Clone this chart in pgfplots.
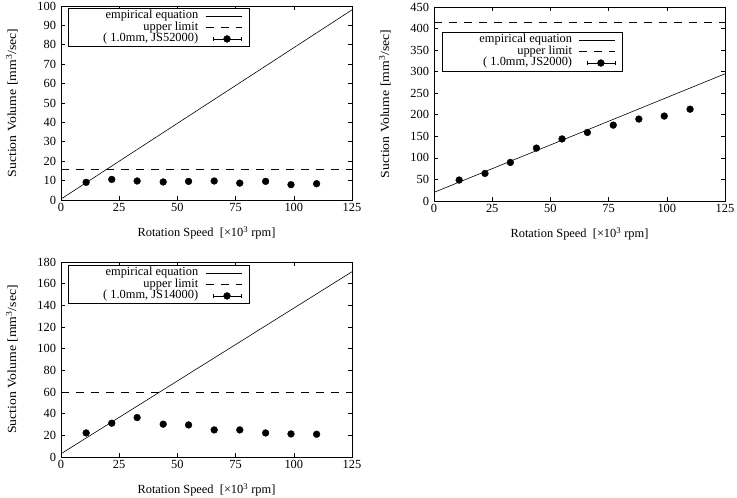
\documentclass[border=0pt]{standalone}
\usepackage{fontspec}
\setmainfont{Liberation Serif}
\usepackage{pgfplots}
\pgfplotsset{compat=1.18}
\newcommand{\gfont}{\fontsize{12.4}{14}\selectfont}
\newcommand{\lt}[1]{\makebox[127pt][r]{#1}}
\pgfplotsset{
  myaxis/.style={
    scale only axis, width=291pt, anchor=south west,
    xmin=0, xmax=125, ymin=0, xtick={0,25,...,125},
    tick align=inside, major tick length=4pt,
    axis line style={line width=0.6pt}, every tick/.style={line width=0.6pt, black},
    /pgf/number format/assume math mode=true,
    tick label style={font=\gfont},
    yticklabel style={xshift=-1.5pt},
    label style={font=\gfont},
    xlabel={Rotation Speed\ \ [×10\textsuperscript{3} rpm]},
    ylabel={\scalebox{1.11}[1]{Suction Volume [mm\textsuperscript{3}/sec]}},
    x label style={at={([yshift=-33pt]axis description cs:0.5,0)}, anchor=center},
    y label style={at={([xshift=-49pt]axis description cs:0,0.5)}, anchor=center},
    legend cell align=right, legend plot pos=right,
    legend style={draw=black, line width=0.5pt, font=\gfont, inner xsep=3pt, inner ysep=2pt,
      row sep=0pt, anchor=north west,
      nodes={inner sep=0pt, text height=8.5pt, text depth=3pt}},
    legend image code/.code={\draw[#1] (7pt,0pt) -- (43pt,0pt); \path (0pt,-4pt) (47pt,4pt);},
  },
  emp/.style={black, line width=0.6pt},
  lim/.style={black, line width=0.6pt, dash pattern=on 8pt off 7pt},
  pts/.style={only marks, mark=*, mark size=3.4pt, black,
    legend image code/.code={%
      \draw[black, line width=0.5pt] (15pt,0pt) -- (43pt,0pt);
      \draw[black, line width=0.5pt] (15pt,-2pt) -- (15pt,2pt);
      \draw[black, line width=0.5pt] (43pt,-2pt) -- (43pt,2pt);
      \fill[black] (28.5pt,0pt) circle (3.4pt);
      \path (0pt,-4pt) (47pt,4pt);}},
}
\begin{document}
\begin{tikzpicture}
\path[use as bounding box] (0,0) rectangle (737pt,498pt);

% top-left
\begin{axis}[myaxis, at={(61pt,298pt)}, height=194pt, ymax=100, ytick={0,10,...,100},
  legend style={at={(0.024,0.99)}}]
\addplot[emp] coordinates {(0,0.5) (125,98)};
\addlegendentry{\lt{empirical equation}}
\addplot[lim] coordinates {(0,16) (125,16)};
\addlegendentry{\lt{upper limit}}
\addplot[pts] coordinates {(10.8,9.1) (21.8,10.6) (32.7,9.8) (43.9,9.3) (54.8,9.6) (65.8,9.8) (76.8,8.7) (87.9,9.6) (98.8,7.9) (109.8,8.4)};
\addlegendentry{\lt{( 1.0mm, JS52000)}}
\end{axis}

% top-right
\begin{axis}[myaxis, at={(434pt,297pt)}, height=194pt, ymax=450, ytick={0,50,...,450},
  legend style={at={(0.027,0.871)}}]
\addplot[emp] coordinates {(0,20) (125,295)};
\addlegendentry{\lt{empirical equation}}
\addplot[lim] coordinates {(0,415) (125,415)};
\addlegendentry{\lt{upper limit}}
\addplot[pts] coordinates {(10.8,48.6) (21.9,64) (32.8,89.5) (44,122.7) (55,144) (65.9,159) (77,176) (88,190) (98.9,197) (110,213)};
\addlegendentry{\lt{( 1.0mm, JS2000)}}
\end{axis}

% bottom-left
\begin{axis}[myaxis, at={(61pt,41pt)}, height=195pt, ymax=180, ytick={0,20,...,180},
  legend style={at={(0.024,0.985)}}]
\addplot[emp] coordinates {(0,3) (125,171)};
\addlegendentry{\lt{empirical equation}}
\addplot[lim] coordinates {(0,60) (125,60)};
\addlegendentry{\lt{upper limit}}
\addplot[pts] coordinates {(10.8,22.2) (21.8,31.2) (32.7,36.4) (43.9,30.3) (54.8,29.6) (65.8,25) (76.8,25) (87.9,22.2) (98.8,21.3) (109.8,21)};
\addlegendentry{\lt{( 1.0mm, JS14000)}}
\end{axis}
\end{tikzpicture}
\end{document}
